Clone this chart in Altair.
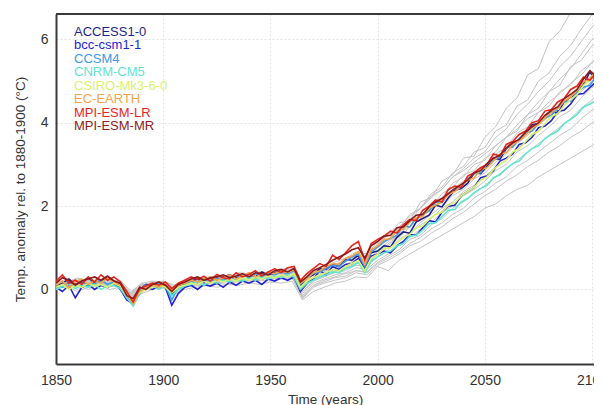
import altair as alt
import pandas as pd

# ---------------- data ----------------
YEARS_COLOR = list(range(1850, 2106, 3))   # 86 points
YEARS_GRAY = list(range(1850, 2106, 5))    # 52 points

MODELS = ["ACCESS1-0", "bcc-csm1-1", "CCSM4", "CNRM-CM5", "CSIRO-Mk3-6-0",
          "EC-EARTH", "MPI-ESM-LR", "MPI-ESM-MR"]
COLORS = ["#1f1f8a", "#2424d4", "#3a9be8", "#5ee6cf", "#d9f26c",
          "#f5a447", "#e8261f", "#8e1b1b"]

ACCESS1_0 = [0.08, 0.15, 0.25, 0.12, 0.18, 0.28, 0.15, 0.22, 0.30, 0.20,
             0.12, -0.12, -0.28, 0.00, 0.12, 0.08, 0.15, 0.12, -0.12, 0.08,
             0.15, 0.20, 0.25, 0.18, 0.28, 0.22, 0.30, 0.35, 0.28, 0.32,
             0.38, 0.30, 0.42, 0.35, 0.40, 0.45, 0.38, 0.50, 0.10, 0.28,
             0.35, 0.50, 0.48, 0.60, 0.55, 0.72, 0.70, 0.82, 0.58, 0.88,
             0.92, 1.05, 1.02, 1.25, 1.38, 1.35, 1.62, 1.70, 1.78, 2.02,
             1.98, 2.20, 2.38, 2.42, 2.55, 2.80, 2.78, 2.95, 3.15, 3.12,
             3.38, 3.52, 3.58, 3.72, 3.95, 3.98, 4.12, 4.28, 4.22, 4.50,
             4.62, 4.70, 4.92, 5.22, 4.98, 5.10]
BCC_CSM1_1 = [0.05, -0.05, 0.10, -0.20, 0.05, 0.12, 0.00, 0.10, 0.05, 0.15,
              0.00, -0.25, -0.35, -0.10, 0.05, 0.00, 0.08, 0.05, -0.38, -0.10,
              0.05, 0.10, 0.00, 0.12, 0.08, 0.15, 0.05, 0.18, 0.10, 0.20,
              0.15, 0.22, 0.12, 0.25, 0.20, 0.28, 0.22, 0.30, -0.05, 0.15,
              0.25, 0.45, 0.35, 0.55, 0.48, 0.60, 0.62, 0.75, 0.50, 0.80,
              0.85, 0.92, 0.88, 1.05, 1.15, 1.32, 1.30, 1.48, 1.65, 1.62,
              1.85, 2.00, 2.02, 2.25, 2.35, 2.45, 2.68, 2.72, 2.85, 3.08,
              3.15, 3.25, 3.48, 3.52, 3.65, 3.88, 3.92, 4.05, 4.28, 4.30,
              4.45, 4.68, 4.70, 4.85, 4.98, 5.05]
CCSM4 = [0.12, 0.05, 0.18, 0.10, 0.20, 0.08, 0.15, 0.22, 0.12, 0.18,
         0.05, -0.20, -0.30, 0.00, 0.10, 0.05, 0.15, 0.08, -0.25, 0.05,
         0.12, 0.20, 0.15, 0.25, 0.18, 0.28, 0.22, 0.30, 0.25, 0.35,
         0.28, 0.38, 0.30, 0.40, 0.35, 0.42, 0.38, 0.45, 0.12, 0.28,
         0.38, 0.42, 0.50, 0.58, 0.55, 0.68, 0.78, 0.85, 0.55, 0.90,
         1.02, 1.15, 1.22, 1.30, 1.52, 1.50, 1.72, 1.80, 1.88, 2.10,
         2.08, 2.30, 2.42, 2.45, 2.65, 2.78, 2.80, 3.02, 3.10, 3.18,
         3.40, 3.42, 3.62, 3.75, 3.80, 3.98, 4.12, 4.18, 4.35, 4.50,
         4.52, 4.75, 4.85, 4.90, 5.12, 5.18]
CNRM_CM5 = [0.00, 0.08, 0.12, 0.02, 0.10, 0.05, 0.12, 0.00, 0.08, 0.10,
            0.02, -0.20, -0.40, -0.10, 0.02, 0.08, 0.00, 0.10, -0.15, 0.00,
            0.08, 0.12, 0.18, 0.10, 0.20, 0.15, 0.22, 0.18, 0.25, 0.20,
            0.28, 0.22, 0.30, 0.25, 0.32, 0.28, 0.35, 0.30, 0.00, 0.15,
            0.22, 0.30, 0.35, 0.42, 0.40, 0.50, 0.55, 0.65, 0.40, 0.68,
            0.78, 0.88, 0.92, 1.05, 1.10, 1.28, 1.30, 1.42, 1.58, 1.60,
            1.75, 1.90, 1.92, 2.10, 2.18, 2.32, 2.42, 2.50, 2.68, 2.75,
            2.90, 3.02, 3.08, 3.25, 3.38, 3.45, 3.62, 3.72, 3.80, 3.98,
            4.08, 4.20, 4.38, 4.45, 4.55, 4.70]
CSIRO_MK3_6_0 = [0.05, 0.12, 0.00, 0.10, 0.05, 0.15, 0.08, 0.12, 0.05, 0.15,
                 0.08, -0.15, -0.25, -0.08, 0.00, 0.05, 0.10, 0.05, -0.08, 0.05,
                 0.10, 0.15, 0.12, 0.20, 0.15, 0.22, 0.18, 0.25, 0.20, 0.28,
                 0.22, 0.30, 0.25, 0.32, 0.28, 0.35, 0.30, 0.38, 0.05, 0.20,
                 0.28, 0.35, 0.40, 0.48, 0.45, 0.55, 0.62, 0.70, 0.45, 0.75,
                 0.85, 0.98, 1.00, 1.12, 1.25, 1.32, 1.48, 1.52, 1.68, 1.80,
                 1.85, 2.02, 2.08, 2.25, 2.35, 2.45, 2.62, 2.70, 2.88, 3.00,
                 3.10, 3.30, 3.38, 3.55, 3.72, 3.80, 3.98, 4.15, 4.22, 4.42,
                 4.55, 4.68, 4.90, 5.02, 5.20, 5.38]
EC_EARTH = [0.10, 0.20, 0.05, 0.18, 0.25, 0.12, 0.20, 0.15, 0.28, 0.18,
            0.10, -0.10, -0.35, -0.05, 0.05, 0.10, 0.05, 0.15, 0.00, 0.10,
            0.15, 0.22, 0.18, 0.25, 0.30, 0.22, 0.28, 0.35, 0.25, 0.32,
            0.40, 0.30, 0.35, 0.42, 0.38, 0.45, 0.40, 0.48, 0.15, 0.25,
            0.40, 0.45, 0.55, 0.62, 0.60, 0.75, 0.80, 0.90, 0.60, 0.95,
            1.05, 1.20, 1.22, 1.40, 1.45, 1.62, 1.72, 1.75, 1.95, 2.02,
            2.10, 2.28, 2.35, 2.48, 2.62, 2.68, 2.88, 2.92, 3.08, 3.25,
            3.28, 3.48, 3.58, 3.70, 3.88, 3.95, 4.12, 4.25, 4.35, 4.52,
            4.62, 4.78, 4.98, 5.05, 5.30, 5.45]
MPI_ESM_LR = [0.20, 0.35, 0.15, 0.22, 0.12, 0.30, 0.18, 0.35, 0.22, 0.30,
              0.18, -0.05, -0.30, 0.02, 0.08, 0.15, 0.10, 0.18, 0.02, 0.15,
              0.22, 0.30, 0.24, 0.32, 0.20, 0.36, 0.28, 0.25, 0.40, 0.30,
              0.36, 0.45, 0.32, 0.42, 0.50, 0.40, 0.52, 0.55, 0.22, 0.38,
              0.50, 0.62, 0.55, 0.82, 0.72, 0.88, 1.05, 1.15, 0.70, 1.10,
              1.20, 1.28, 1.40, 1.35, 1.55, 1.68, 1.65, 1.90, 2.00, 2.15,
              2.10, 2.40, 2.48, 2.45, 2.72, 2.80, 2.92, 3.00, 3.25, 3.20,
              3.48, 3.55, 3.72, 3.80, 4.00, 4.05, 4.28, 4.32, 4.50, 4.58,
              4.80, 4.88, 5.10, 5.02, 5.20, 5.30]
MPI_ESM_MR = [0.15, 0.28, 0.22, 0.10, 0.20, 0.25, 0.30, 0.22, 0.32, 0.20,
              0.15, -0.15, -0.22, 0.05, 0.00, 0.12, 0.18, 0.10, -0.05, 0.12,
              0.18, 0.25, 0.30, 0.22, 0.28, 0.30, 0.35, 0.28, 0.32, 0.38,
              0.30, 0.40, 0.38, 0.35, 0.45, 0.48, 0.42, 0.50, 0.18, 0.30,
              0.45, 0.52, 0.60, 0.70, 0.78, 0.85, 0.95, 1.00, 0.75, 1.05,
              1.15, 1.28, 1.30, 1.48, 1.50, 1.65, 1.78, 1.80, 1.98, 2.10,
              2.18, 2.30, 2.42, 2.52, 2.62, 2.80, 2.85, 3.02, 3.15, 3.22,
              3.40, 3.52, 3.60, 3.78, 3.90, 4.00, 4.18, 4.30, 4.38, 4.58,
              4.68, 4.80, 5.05, 5.25, 5.10, 5.25]

GRAY_01 = [0.15, 0.25, 0.10, 0.22, 0.18, 0.30, 0.12, -0.15, 0.10, 0.15, 0.20, 0.05, 0.22, 0.28, 0.25, 0.35,
           0.30, 0.40, 0.38, 0.42, 0.40, 0.48, 0.52, 0.15, 0.40, 0.50, 0.65, 0.75, 0.90, 0.85, 1.15,
           1.30, 1.60, 1.65, 2.10, 2.20, 2.60, 2.75, 3.15, 3.20, 3.65, 3.90, 4.35, 4.60, 5.15, 5.30,
           5.95, 6.20, 6.65, 6.90, 7.35, 7.50]
GRAY_02 = [0.10, 0.18, 0.25, 0.12, 0.22, 0.15, 0.20, -0.20, 0.05, 0.18, 0.12, 0.00, 0.18, 0.25, 0.30, 0.22,
           0.35, 0.32, 0.40, 0.35, 0.45, 0.42, 0.50, 0.10, 0.35, 0.45, 0.60, 0.65, 0.85, 0.80, 1.05,
           1.35, 1.45, 1.80, 1.95, 2.30, 2.45, 2.80, 2.95, 3.30, 3.40, 3.80, 3.95, 4.40, 4.55, 5.00,
           5.20, 5.60, 5.85, 6.25, 6.60, 6.85]
GRAY_03 = [0.20, 0.12, 0.18, 0.28, 0.15, 0.22, 0.10, -0.10, 0.12, 0.08, 0.20, 0.10, 0.15, 0.22, 0.28, 0.32,
           0.25, 0.38, 0.30, 0.40, 0.38, 0.45, 0.40, 0.05, 0.30, 0.42, 0.55, 0.70, 0.80, 0.75, 1.00,
           1.20, 1.50, 1.65, 1.95, 2.20, 2.40, 2.70, 2.90, 3.15, 3.30, 3.65, 3.85, 4.20, 4.45, 4.75,
           5.00, 5.35, 5.60, 5.95, 6.30, 6.55]
GRAY_04 = [0.05, 0.15, 0.08, 0.18, 0.10, 0.20, 0.05, -0.25, 0.00, 0.10, 0.05, -0.05, 0.10, 0.18, 0.15, 0.25,
           0.22, 0.28, 0.32, 0.28, 0.35, 0.38, 0.42, 0.00, 0.25, 0.35, 0.48, 0.55, 0.70, 0.65, 0.90,
           1.15, 1.30, 1.60, 1.75, 2.05, 2.20, 2.55, 2.70, 3.00, 3.10, 3.45, 3.65, 3.95, 4.20, 4.50,
           4.75, 5.05, 5.30, 5.65, 6.00, 6.20]
GRAY_05 = [0.12, 0.20, 0.05, 0.15, 0.25, 0.10, 0.18, -0.08, 0.15, 0.05, 0.15, -0.02, 0.20, 0.15, 0.25, 0.20,
           0.32, 0.28, 0.35, 0.40, 0.32, 0.40, 0.48, 0.12, 0.28, 0.38, 0.50, 0.60, 0.72, 0.70, 0.92,
           1.05, 1.35, 1.50, 1.80, 1.95, 2.30, 2.45, 2.75, 2.85, 3.15, 3.30, 3.65, 3.80, 4.20, 4.35,
           4.75, 4.90, 5.35, 5.50, 5.85, 6.00]
GRAY_06 = [0.00, 0.10, 0.18, 0.05, 0.12, 0.18, 0.08, -0.30, -0.05, 0.05, 0.10, -0.10, 0.05, 0.12, 0.20, 0.15,
           0.22, 0.25, 0.20, 0.30, 0.28, 0.35, 0.38, -0.10, 0.20, 0.30, 0.42, 0.50, 0.62, 0.60, 0.85,
           1.10, 1.25, 1.50, 1.70, 1.95, 2.15, 2.40, 2.60, 2.75, 2.95, 3.25, 3.40, 3.75, 3.90, 4.25,
           4.40, 4.75, 4.90, 5.25, 5.45, 5.70]
GRAY_07 = [0.18, 0.08, 0.15, 0.22, 0.12, 0.05, 0.15, -0.12, 0.08, 0.15, 0.02, 0.05, 0.12, 0.20, 0.18, 0.28,
           0.20, 0.30, 0.25, 0.35, 0.30, 0.32, 0.40, -0.05, 0.22, 0.30, 0.40, 0.45, 0.58, 0.55, 0.78,
           0.95, 1.20, 1.35, 1.60, 1.80, 2.00, 2.25, 2.40, 2.65, 2.80, 3.05, 3.25, 3.50, 3.70, 3.95,
           4.15, 4.45, 4.60, 4.90, 5.15, 5.35]
GRAY_08 = [0.05, 0.12, 0.00, 0.10, 0.15, 0.08, 0.12, -0.22, 0.02, 0.08, 0.12, -0.05, 0.08, 0.15, 0.12, 0.20,
           0.18, 0.25, 0.22, 0.28, 0.25, 0.30, 0.35, -0.15, 0.15, 0.25, 0.35, 0.40, 0.52, 0.48, 0.70,
           0.85, 1.05, 1.25, 1.45, 1.60, 1.85, 2.00, 2.25, 2.40, 2.60, 2.85, 3.00, 3.30, 3.45, 3.70,
           3.90, 4.15, 4.30, 4.60, 4.85, 5.00]
GRAY_09 = [0.10, 0.02, 0.12, 0.18, 0.05, 0.15, 0.10, -0.18, 0.05, 0.12, 0.05, 0.00, 0.10, 0.08, 0.18, 0.15,
           0.22, 0.20, 0.28, 0.25, 0.30, 0.28, 0.32, -0.20, 0.10, 0.22, 0.30, 0.38, 0.45, 0.42, 0.65,
           0.80, 0.95, 1.20, 1.30, 1.55, 1.70, 1.95, 2.10, 2.30, 2.50, 2.70, 2.90, 3.10, 3.30, 3.50,
           3.70, 3.90, 4.10, 4.35, 4.55, 4.75]
GRAY_10 = [0.08, 0.15, 0.05, 0.12, 0.20, 0.10, 0.05, -0.28, -0.02, 0.10, 0.08, -0.08, 0.05, 0.12, 0.15, 0.12,
           0.20, 0.18, 0.25, 0.22, 0.28, 0.25, 0.30, -0.18, 0.08, 0.18, 0.28, 0.32, 0.45, 0.40, 0.62,
           0.75, 0.90, 1.10, 1.25, 1.45, 1.60, 1.80, 1.95, 2.20, 2.35, 2.55, 2.70, 2.95, 3.10, 3.30,
           3.50, 3.70, 3.85, 4.10, 4.30, 4.45]
GRAY_11 = [0.15, 0.05, 0.10, 0.00, 0.12, 0.18, 0.08, -0.15, 0.00, 0.05, 0.10, -0.02, 0.05, 0.10, 0.08, 0.15,
           0.12, 0.20, 0.18, 0.22, 0.20, 0.25, 0.28, -0.22, 0.05, 0.15, 0.22, 0.28, 0.40, 0.35, 0.58,
           0.70, 0.85, 1.05, 1.15, 1.35, 1.50, 1.70, 1.85, 2.05, 2.25, 2.40, 2.60, 2.75, 2.95, 3.10,
           3.30, 3.45, 3.65, 3.80, 4.00, 4.15]
GRAY_12 = [0.00, 0.08, -0.05, 0.05, 0.10, 0.00, 0.05, -0.30, -0.10, 0.00, 0.05, -0.12, 0.00, 0.05, 0.10, 0.05,
           0.12, 0.10, 0.15, 0.12, 0.18, 0.15, 0.20, -0.25, -0.05, 0.05, 0.15, 0.20, 0.30, 0.28, 0.55,
           0.45, 0.70, 0.85, 1.00, 1.15, 1.30, 1.45, 1.60, 1.75, 1.95, 2.05, 2.25, 2.40, 2.50, 2.70,
           2.85, 3.00, 3.15, 3.30, 3.45, 3.60]
GRAY_13 = [0.22, 0.15, 0.28, 0.18, 0.25, 0.20, 0.22, -0.05, 0.15, 0.20, 0.18, 0.10, 0.22, 0.20, 0.28, 0.25,
           0.32, 0.30, 0.35, 0.38, 0.35, 0.42, 0.45, 0.08, 0.28, 0.35, 0.45, 0.52, 0.65, 0.62, 0.85,
           1.00, 1.15, 1.35, 1.55, 1.70, 1.95, 2.10, 2.35, 2.50, 2.70, 2.95, 3.10, 3.40, 3.55, 3.80,
           4.00, 4.25, 4.45, 4.75, 5.00, 5.15]
GRAY_14 = [0.12, 0.22, 0.15, 0.25, 0.08, 0.20, 0.15, -0.10, 0.08, 0.18, 0.15, 0.02, 0.18, 0.22, 0.20, 0.30,
           0.25, 0.35, 0.32, 0.38, 0.42, 0.38, 0.50, 0.12, 0.35, 0.48, 0.60, 0.70, 0.82, 0.78, 1.10,
           1.30, 1.50, 1.75, 1.95, 2.25, 2.40, 2.70, 2.85, 3.05, 3.25, 3.45, 3.65, 3.85, 4.10, 4.25,
           4.50, 4.70, 4.95, 5.15, 5.45, 5.60]

X_TICKS = [1850, 1900, 1950, 2000, 2050, 2100]
Y_TICKS = [0, 2, 4, 6]

# ---------------- tables ----------------
color_series = [ACCESS1_0, BCC_CSM1_1, CCSM4, CNRM_CM5, CSIRO_MK3_6_0,
                EC_EARTH, MPI_ESM_LR, MPI_ESM_MR]
gray_series = [GRAY_01, GRAY_02, GRAY_03, GRAY_04, GRAY_05, GRAY_06, GRAY_07,
               GRAY_08, GRAY_09, GRAY_10, GRAY_11, GRAY_12, GRAY_13, GRAY_14]

rows = []
for name, vals in zip(MODELS, color_series):
    for yr, v in zip(YEARS_COLOR, vals):
        rows.append({"model": name, "year": yr, "temp": v})
col_df = pd.DataFrame(rows)

grows = []
for i, vals in enumerate(gray_series):
    for yr, v in zip(YEARS_GRAY, vals):
        grows.append({"model": f"other{i}", "year": yr, "temp": v})
gray_df = pd.DataFrame(grows)

leg_df = pd.DataFrame({"model": MODELS})
frame_df = pd.DataFrame({"k": [0]})

FONT = "Liberation Sans"
W, H = 538, 350
AXIS_COLOR = "#3a3a3a"

x_enc = alt.X("year:Q", scale=alt.Scale(domain=[1850, 2100.9], nice=False, zero=False),
              axis=alt.Axis(values=X_TICKS, title="Time (years)", format="d",
                            labelPadding=9, titlePadding=5, labelFlush=False))
y_enc = alt.Y("temp:Q", scale=alt.Scale(domain=[-1.79, 6.61], nice=False, zero=False),
              axis=alt.Axis(values=Y_TICKS, title="Temp. anomaly rel. to 1880-1900 (°C)",
                            labelPadding=8, titlePadding=13, labelFlush=False))

color_scale = alt.Scale(domain=MODELS, range=COLORS)

gray = alt.Chart(gray_df).mark_line(clip=True, strokeWidth=1, color="#c4c4c4").encode(
    x=x_enc, y=y_enc, detail="model:N")

colored = alt.Chart(col_df).mark_line(clip=True, strokeWidth=1.6).encode(
    x=x_enc, y=y_enc,
    color=alt.Color("model:N", scale=color_scale, legend=None))

lines = alt.layer(gray, colored)

top_line = alt.Chart(frame_df).mark_rule(color=AXIS_COLOR, strokeWidth=2).encode(
    x=alt.value(0), x2=alt.value(W), y=alt.value(0))

legend = alt.Chart(leg_df).mark_text(align="left", baseline="middle", font=FONT,
                                     fontSize=13).encode(
    x=alt.value(18),
    y=alt.Y("model:N", sort=MODELS,
            scale=alt.Scale(type="point", range=[17.7, 112], padding=0), axis=None),
    color=alt.Color("model:N", scale=color_scale, legend=None),
    text="model:N")

chart = alt.layer(lines, top_line, legend).resolve_scale(y="independent").properties(
    width=W, height=H,
    autosize=alt.AutoSizeParams(type="none"),
    padding={"left": 48, "top": 6, "right": 0, "bottom": 41},
).configure_view(stroke=None).configure_axis(
    domain=True, domainColor=AXIS_COLOR, domainWidth=2,
    ticks=False, grid=True, gridColor="#e4e4e4", gridDash=[2, 2],
    labelFont=FONT, labelFontSize=14, labelColor="#333333",
    titleFont=FONT, titleFontSize=13.5, titleFontWeight="normal", titleColor="#333333",
)

chart.save("out.html", embed_options={"renderer": "svg", "actions": False})
